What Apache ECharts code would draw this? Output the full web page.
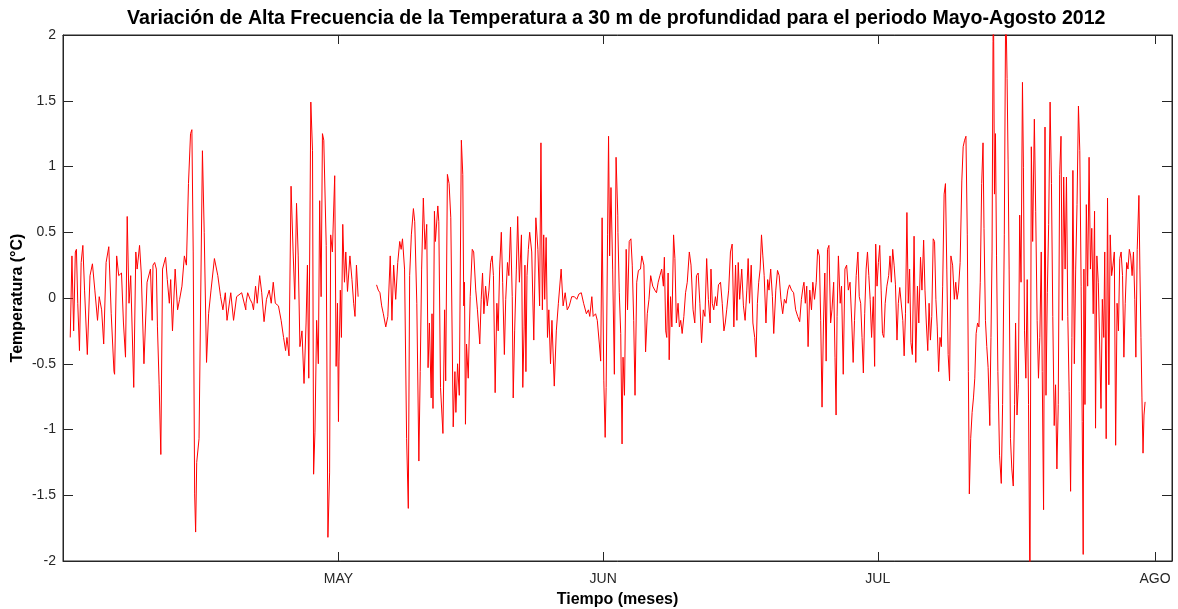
<!DOCTYPE html>
<html>
<head>
<meta charset="utf-8">
<title>Variación de Alta Frecuencia de la Temperatura</title>
<script src="https://cdn.jsdelivr.net/npm/echarts@6/dist/echarts.min.js"></script>
<style>
html, body { margin: 0; padding: 0; background: #fff; }
#grafico { width: 1178px; height: 609px; }
</style>
</head>
<body>
<div id="grafico"></div>
<script>
// tiempo en dias desde el 1 de abril, temperatura en °C (anomalia de alta frecuencia)
const serieAbril = [
  [0.81,-0.30],[1.00,0.32],[1.19,-0.25],[1.38,0.35],[1.50,0.37],[1.65,-0.04],[1.84,-0.40],[2.03,0.27],[2.22,0.40],[2.41,0.06],
  [2.72,-0.43],[3.02,0.17],[3.29,0.26],[3.56,0.06],[3.86,-0.17],[4.05,0.01],[4.32,-0.09],[4.55,-0.35],[4.82,0.27],[5.12,0.39],
  [5.39,-0.12],[5.70,-0.56],[5.77,-0.58],[6.00,0.32],[6.23,0.17],[6.54,0.19],[6.76,-0.19],[6.99,-0.45],[7.18,0.62],[7.38,-0.04],
  [7.57,0.17],[7.91,-0.68],[8.14,0.35],[8.29,0.22],[8.56,0.40],[8.75,0.19],[9.05,-0.50],[9.40,0.12],[9.78,0.22],[9.97,-0.17],
  [10.06,0.25],[10.25,0.27],[10.44,0.22],[10.56,-0.22],[10.75,-0.66],[10.94,-1.19],[11.13,0.22],[11.47,0.31],[11.66,0.14],[11.89,-0.04],
  [12.04,0.14],[12.24,-0.25],[12.54,0.22],[12.81,-0.09],[13.04,-0.01],[13.30,0.09],[13.57,0.32],[13.80,0.25],[14.03,0.87],[14.26,1.25],
  [14.41,1.28],[14.56,0.35],[14.72,-1.49],[14.83,-1.78],[14.95,-1.25],[15.21,-1.07],[15.59,1.12],[15.79,0.50],[16.05,-0.49],[16.28,-0.12],
  [16.55,0.06],[16.93,0.30],[17.31,0.17],[17.62,0.01],[17.88,-0.09],[18.15,0.04],[18.34,-0.17],[18.76,0.04],[19.07,-0.17],[19.41,0.01],
  [19.98,0.04],[20.44,-0.09],
  [20.46,-0.04],[20.65,0.04],[20.92,-0.01],[21.15,-0.04],[21.30,-0.09],[21.53,0.09],[21.72,-0.04],[21.99,0.17],[22.22,0.04],[22.48,-0.18],
  [22.75,-0.01],[23.06,0.06],[23.28,-0.04],[23.51,0.12],[23.74,-0.04],[24.09,-0.06],[24.39,-0.17],[24.66,-0.30],[24.89,-0.40],[25.04,-0.30],
  [25.27,-0.44],[25.50,0.85],[25.73,0.35],[25.92,-0.01],[26.11,0.72],[26.30,0.32],[26.49,-0.37],[26.72,-0.25],[26.95,-0.65],[27.18,-0.19],
  [27.33,0.25],[27.48,-0.61],[27.71,1.49],[27.90,1.12],[28.02,-1.34],[28.17,-1.02],[28.36,-0.17],[28.55,-0.50],[28.70,0.74],[28.86,0.01],
  [29.01,1.25],[29.16,1.20],[29.43,0.40],[29.62,-1.82],[29.81,-1.33],[29.93,0.48],[30.12,0.35],[30.38,0.93],[30.54,-0.52],[30.69,-0.04],
  [30.80,-0.94]
];
const serieMayo = [
  [30.86,-0.48],[31.01,0.06],[31.13,-0.30],[31.28,0.56],[31.47,0.12],[31.62,0.35],[31.81,0.05],[32.08,0.32],[32.31,0.14],[32.50,-0.04],
  [32.65,-0.14],[32.81,0.25],[33.00,0.01],[34.00,'-'],
  [35.06,0.10],[35.25,0.06],[35.44,0.04],[35.63,-0.06],[35.82,-0.12],[36.09,-0.22],[36.32,-0.14],[36.59,0.32],[36.78,-0.17],[36.97,0.25],
  [37.20,-0.01],[37.43,0.27],[37.65,0.43],[37.81,0.37],[37.96,0.45],[38.19,0.22],[38.42,-1.07],[38.61,-1.60],[38.76,0.17],[38.95,0.48],
  [39.18,0.68],[39.33,0.58],[39.56,-0.04],[39.79,-1.24],[39.94,-0.56],[40.10,0.22],[40.29,0.76],[40.48,0.37],[40.67,0.56],[40.82,-0.53],
  [40.97,-0.19],[41.17,-0.76],
  [41.26,-0.12],[41.37,-0.84],[41.53,0.66],[41.64,0.43],[41.91,0.70],[42.02,0.58],[42.21,-0.68],[42.48,-1.03],[42.67,-0.09],[42.79,-0.63],
  [42.98,0.94],[43.17,0.87],[43.36,0.61],[43.63,-0.98],[43.82,-0.56],[43.93,-0.87],[44.12,-0.50],[44.31,-0.74],[44.54,1.20],[44.70,0.94],
  [44.81,-0.06],[44.89,0.12],[45.00,-0.96],[45.12,-0.35],[45.31,-0.61],[45.53,0.01],[45.76,0.37],[45.92,0.35],[46.15,0.06],[46.34,-0.09],
  [46.60,-0.35],[46.76,-0.01],[46.91,0.19],[47.06,-0.12],[47.25,0.09],[47.44,-0.06],[47.63,0.06],[47.82,0.27],[47.98,0.32],[48.13,0.17],
  [48.32,-0.72],[48.51,-0.04],[48.66,-0.25],[48.82,0.22],[49.01,0.50],[49.16,0.12],[49.35,-0.43],[49.50,-0.01],[49.70,0.27],[49.85,0.17],
  [50.04,0.54],[50.23,0.01],[50.34,-0.76],[50.50,-0.25],[50.69,0.22],[50.84,0.62],[51.03,0.12],[51.26,0.48],[51.41,-0.68],[51.56,-0.22],
  [51.65,0.25],[51.76,-0.56],[51.88,0.17],[52.03,0.37],[52.18,0.50],[52.41,0.35],[52.64,-0.32],[52.87,0.61],[53.10,0.37],[53.29,-0.06],
  [53.44,1.18],[53.60,-0.09],[53.75,0.48],[53.86,-0.01],[54.02,0.46],[54.17,-0.30],[54.32,-0.09],[54.51,-0.50],[54.67,-0.17],[54.93,-0.67],
  [55.16,-0.25],[55.39,-0.04],[55.70,0.22],[55.92,-0.06],[56.15,0.04],[56.38,-0.09],[56.61,-0.06],[56.88,0.01],[57.18,0.01],[57.45,-0.01],
  [57.68,0.03],[57.95,0.04],[58.21,-0.04],[58.52,-0.12],[58.75,-0.09],[58.90,-0.14],[59.13,0.01],[59.28,-0.14],[59.55,-0.12],[59.74,-0.17],
  [59.97,-0.35],[60.12,-0.48],[60.28,0.61]
];
const serieJunio = [
  [60.47,-0.63],[60.62,-1.06],[60.73,-0.68],[60.89,0.48],[61.00,1.23],[61.12,0.32],[61.27,0.84],[61.46,0.22],[61.65,-0.58],[61.84,1.07],
  [62.03,0.63],
  [62.05,0.50],[62.20,0.04],[62.36,-0.27],[62.51,-1.11],[62.62,-0.45],[62.78,-0.74],[62.97,0.37],[63.12,-0.09],[63.31,0.43],[63.50,0.45],
  [63.65,0.25],[63.81,-0.17],[63.96,-0.74],[64.15,0.12],[64.34,0.21],[64.57,0.22],[64.72,0.32],[64.95,0.25],[65.14,-0.41],[65.33,-0.12],
  [65.52,-0.01],[65.71,0.17],[65.94,0.09],[66.17,0.06],[66.36,0.04],[66.55,0.12],[66.74,0.17],[66.94,0.22],[67.13,0.09],[67.24,0.31],
  [67.39,-0.25],[67.51,-0.30],[67.66,0.19],[67.78,-0.47],[67.93,0.01],[68.08,-0.22],[68.27,0.48],[68.42,0.30],[68.58,-0.19],[68.77,-0.04],
  [68.92,-0.22],[69.07,-0.17],[69.23,-0.27],[69.42,-0.14],[69.61,0.04],[69.80,0.12],[70.03,0.35],[70.22,0.25],[70.45,-0.09],[70.64,-0.19],
  [70.83,0.17],[71.02,0.19],[71.21,-0.04],[71.40,-0.34],[71.59,-0.09],[71.78,-0.14],[71.97,0.30],[72.16,-0.01],[72.36,-0.19],
  [72.45,0.22],[72.60,-0.04],[72.76,-0.09],[72.95,0.01],[73.10,-0.06],[73.29,0.10],[73.52,0.12],[73.71,-0.04],[73.90,-0.25],[74.05,-0.19],
  [74.21,-0.09],[74.43,0.06],[74.63,0.35],[74.82,0.41],[75.01,-0.22],[75.20,0.25],[75.35,-0.17],[75.50,0.27],[75.66,-0.01],[75.89,0.22],
  [76.08,-0.06],[76.27,-0.17],[76.46,0.06],[76.61,0.30],[76.76,-0.04],[76.95,0.25],[77.14,-0.19],[77.34,-0.30],[77.49,-0.45],[77.64,-0.04],
  [77.79,0.12],[77.95,0.22],[78.10,0.48],[78.25,0.32],[78.40,0.17],[78.60,-0.19],[78.79,0.14],[78.94,0.06],[79.13,0.22],[79.32,0.01],
  [79.47,-0.27],[79.70,0.06],[79.89,0.21],[80.08,0.17],[80.27,-0.01],[80.47,-0.12],[80.66,-0.01],[80.85,-0.04],[81.04,0.06],[81.23,0.10],
  [81.46,0.06],[81.69,0.04],[81.92,-0.09],[82.15,-0.14],[82.37,-0.18],[82.56,-0.01],[82.76,0.09],
  [82.85,0.12],[83.00,-0.04],[83.16,0.09],[83.31,-0.37],[83.50,0.06],[83.69,-0.09],[83.84,0.12],[84.03,-0.01],[84.22,0.12],[84.38,0.37],
  [84.57,0.32],[84.72,-0.17],[84.87,-0.83],[85.03,-0.19],[85.18,0.19],[85.33,-0.48],[85.48,0.37],[85.64,0.40],[85.83,-0.19],[85.98,-0.09],
  [86.17,0.12],[86.32,-0.45],[86.44,-0.89],[86.55,-0.14],[86.70,0.32],[86.90,-0.04],[87.05,0.09],[87.24,-0.58],[87.43,0.22],[87.62,0.25],
  [87.81,0.06],[88.00,0.12],[88.20,-0.19],[88.35,-0.49],[88.50,-0.17],[88.69,0.17],[88.88,0.35],[89.03,0.01],[89.19,-0.04],[89.34,-0.30],
  [89.49,-0.57],[89.64,-0.12],[89.80,0.22],[89.95,0.35],[90.10,0.17],[90.25,-0.01],[90.41,-0.30],[90.60,0.01],[90.75,-0.52],[90.87,0.41],
  [91.02,0.09]
];
const serieJulio = [
  [91.17,0.27],[91.32,0.40],[91.48,0.06],[91.63,-0.27],[91.78,-0.30],[91.93,-0.04],[92.12,0.09],[92.32,0.17],[92.47,0.32],[92.62,0.12],
  [92.77,0.37],[92.93,0.25],[93.08,0.10],
  [93.25,-0.32],[93.40,-0.04],[93.56,0.08],[93.75,0.09],[93.90,-0.17],[94.05,-0.44],[94.20,-0.12],[94.36,0.65],[94.51,-0.04],[94.66,0.22],
  [94.81,-0.34],[94.97,-0.43],[95.16,0.47],[95.35,-0.49],[95.54,0.09],[95.69,-0.19],[95.88,0.31],[96.04,0.06],[96.23,0.44],[96.38,0.06],
  [96.53,-0.19],[96.69,-0.40],[96.84,-0.04],[96.99,-0.32],[97.14,-0.14],[97.30,0.45],[97.45,0.43],[97.60,-0.01],[97.75,-0.22],[97.91,-0.56],
  [98.06,-0.30],[98.21,-0.37],[98.36,0.09],[98.52,0.79],[98.67,0.87],[98.82,0.22],[98.97,-0.43],[99.13,-0.63],[99.28,0.32],[99.47,0.25],
  [99.66,-0.01],[99.82,0.12],[99.97,-0.01],[100.12,0.06],[100.31,0.27],[100.50,0.89],[100.65,1.15],[100.81,1.20],[100.96,1.23],[101.11,0.48],
  [101.23,-0.56],[101.34,-1.49],[101.49,-1.07],[101.65,-0.87],[101.80,-0.76],[101.95,-0.61],[102.10,-0.27],[102.26,-0.19],[102.41,-0.22],[102.56,0.12],
  [102.72,0.87],[102.87,1.18],[102.98,0.53],[103.14,-0.17],[103.29,-0.37],[103.44,-0.53],[103.63,-0.97],
  [103.65,-0.81],[103.76,-0.30],[103.88,0.35],[103.99,1.95],[104.03,2.40],[104.15,0.79],[104.26,1.25],[104.38,0.32],[104.53,-0.56],[104.72,-1.20],
  [104.91,-1.41],[105.06,-0.81],[105.25,0.48],[105.41,2.30],[105.56,1.67],[105.67,1.05],[105.79,0.22],[105.94,-1.07],[106.09,-1.30],[106.25,-1.43],
  [106.40,-0.81],[106.51,-0.19],[106.67,-0.89],[106.82,-0.66],[106.97,0.63],[107.12,0.12],[107.28,1.64],[107.39,0.99],[107.51,-0.25],[107.66,-0.61],
  [107.81,0.14],[107.96,-0.81],[108.12,-2.30],[108.27,1.15],[108.42,0.43],[108.61,1.36],[108.76,0.66],[108.92,-0.17],[109.07,-0.61],[109.22,-0.30],
  [109.38,0.35],[109.49,-0.56],[109.64,-1.61],[109.80,1.30],[109.91,-0.74],[110.06,0.04],[110.21,0.56],[110.37,1.49],[110.52,0.87],[110.67,-0.14],
  [110.83,-0.97],[110.98,-0.66],[111.13,-1.30],[111.28,-0.81],[111.44,0.94],[111.59,1.23],[111.74,-0.17],[111.89,0.92],[112.05,0.22],[112.20,0.92],
  [112.35,-0.14],[112.50,-0.71],[112.66,-1.47],[112.81,-0.30],[112.92,0.97],[113.08,-0.50],[113.23,0.22],[113.38,0.71],[113.54,1.46],[113.69,1.12],
  [113.84,0.09],[113.96,-0.94],[114.07,-1.95],
  [114.15,0.22],[114.27,-0.81],[114.42,0.71],[114.57,0.09],[114.73,1.07],[114.88,0.22],[115.03,0.53],[115.19,-0.12],[115.34,0.66],[115.45,-0.99],
  [115.60,0.32],[115.76,0.12],[115.91,-0.35],[116.06,-0.84],[116.21,-0.01],[116.37,-0.30],[116.48,0.35],[116.64,-1.07],[116.79,0.76],[116.94,-0.66],
  [117.09,0.48],[117.25,0.17],[117.40,0.25],[117.55,0.35],[117.70,-1.12],[117.86,-0.04],[118.01,-0.25],[118.16,0.30],[118.31,0.35],[118.47,0.17],
  [118.62,-0.45],[118.77,-0.04],[118.93,0.27],[119.08,0.22],[119.23,0.37],[119.38,0.32],[119.54,0.17],[119.69,0.35],[119.84,-0.01],[119.96,-0.45],
  [120.11,0.37],[120.30,0.78],[120.41,0.22],[120.53,-0.30],[120.64,-0.76],[120.76,-1.18],[120.87,-0.89],[120.99,-0.79]
];

// marcas del eje de tiempo
const mesTicks = [30.8, 60.4, 91.1, 122.1];
const mesLabels = ['MAY', 'JUN', 'JUL', 'AGO'];

const datos = serieAbril.concat(serieMayo, serieJunio, serieJulio);

const ejeColor = '#262626';
const fuente = 'Liberation Sans, Arial, Helvetica, sans-serif';

const chart = echarts.init(document.getElementById('grafico'));

const option = {
    animation: false,
    backgroundColor: '#fff',
    title: {
        text: 'Variación de Alta Frecuencia de la Temperatura a 30 m de profundidad para el periodo Mayo-Agosto 2012',
        left: 122,
        top: 4,
        textStyle: { fontFamily: fuente, fontWeight: 'bold', fontSize: 19.6, color: '#000' }
    },
    grid: {
        left: 63, right: 6, top: 35, bottom: 48,
        outerBoundsMode: 'none',
        show: true, borderColor: ejeColor, borderWidth: 1
    },
    xAxis: [
        {
            type: 'value', min: 0, max: 124, position: 'bottom',
            axisLine: { onZero: false, lineStyle: { color: ejeColor } },
            axisTick: { inside: true, length: 9, customValues: mesTicks, lineStyle: { color: ejeColor } },
            axisLabel: {
                customValues: mesTicks,
                formatter: function (v) { return mesLabels[mesTicks.indexOf(v)] || ''; },
                color: ejeColor, fontFamily: fuente, fontSize: 14, margin: 11
            },
            splitLine: { show: false },
            name: 'Tiempo (meses)', nameLocation: 'middle', nameGap: 31, nameMoveOverlap: false,
            nameTextStyle: { fontFamily: fuente, fontWeight: 'bold', fontSize: 16, color: '#000' }
        },
        {
            type: 'value', min: 0, max: 124, position: 'top',
            axisLine: { onZero: false, lineStyle: { color: ejeColor } },
            axisTick: { inside: true, length: 9, customValues: mesTicks, lineStyle: { color: ejeColor } },
            axisLabel: { show: false },
            splitLine: { show: false }
        }
    ],
    yAxis: [
        {
            type: 'value', min: -2, max: 2, interval: 0.5, position: 'left',
            axisLine: { show: true, onZero: false, lineStyle: { color: ejeColor } },
            axisTick: { show: true, inside: true, length: 10, lineStyle: { color: ejeColor } },
            axisLabel: { color: ejeColor, fontFamily: fuente, fontSize: 14, margin: 7 },
            splitLine: { show: false },
            name: 'Temperatura (°C)', nameLocation: 'middle', nameGap: 37, nameMoveOverlap: false,
            nameTextStyle: { fontFamily: fuente, fontWeight: 'bold', fontSize: 16, color: '#000' }
        },
        {
            type: 'value', min: -2, max: 2, interval: 0.5, position: 'right',
            axisLine: { show: true, onZero: false, lineStyle: { color: ejeColor } },
            axisTick: { show: true, inside: true, length: 10, lineStyle: { color: ejeColor } },
            axisLabel: { show: false },
            splitLine: { show: false }
        }
    ],
    series: [
        {
            type: 'line',
            xAxisIndex: 0,
            yAxisIndex: 0,
            data: datos,
            showSymbol: false,
            symbol: 'none',
            clip: true,
            connectNulls: false,
            lineStyle: { color: '#ff0000', width: 1 }
        }
    ]
};

option && chart.setOption(option);
</script>
</body>
</html>
